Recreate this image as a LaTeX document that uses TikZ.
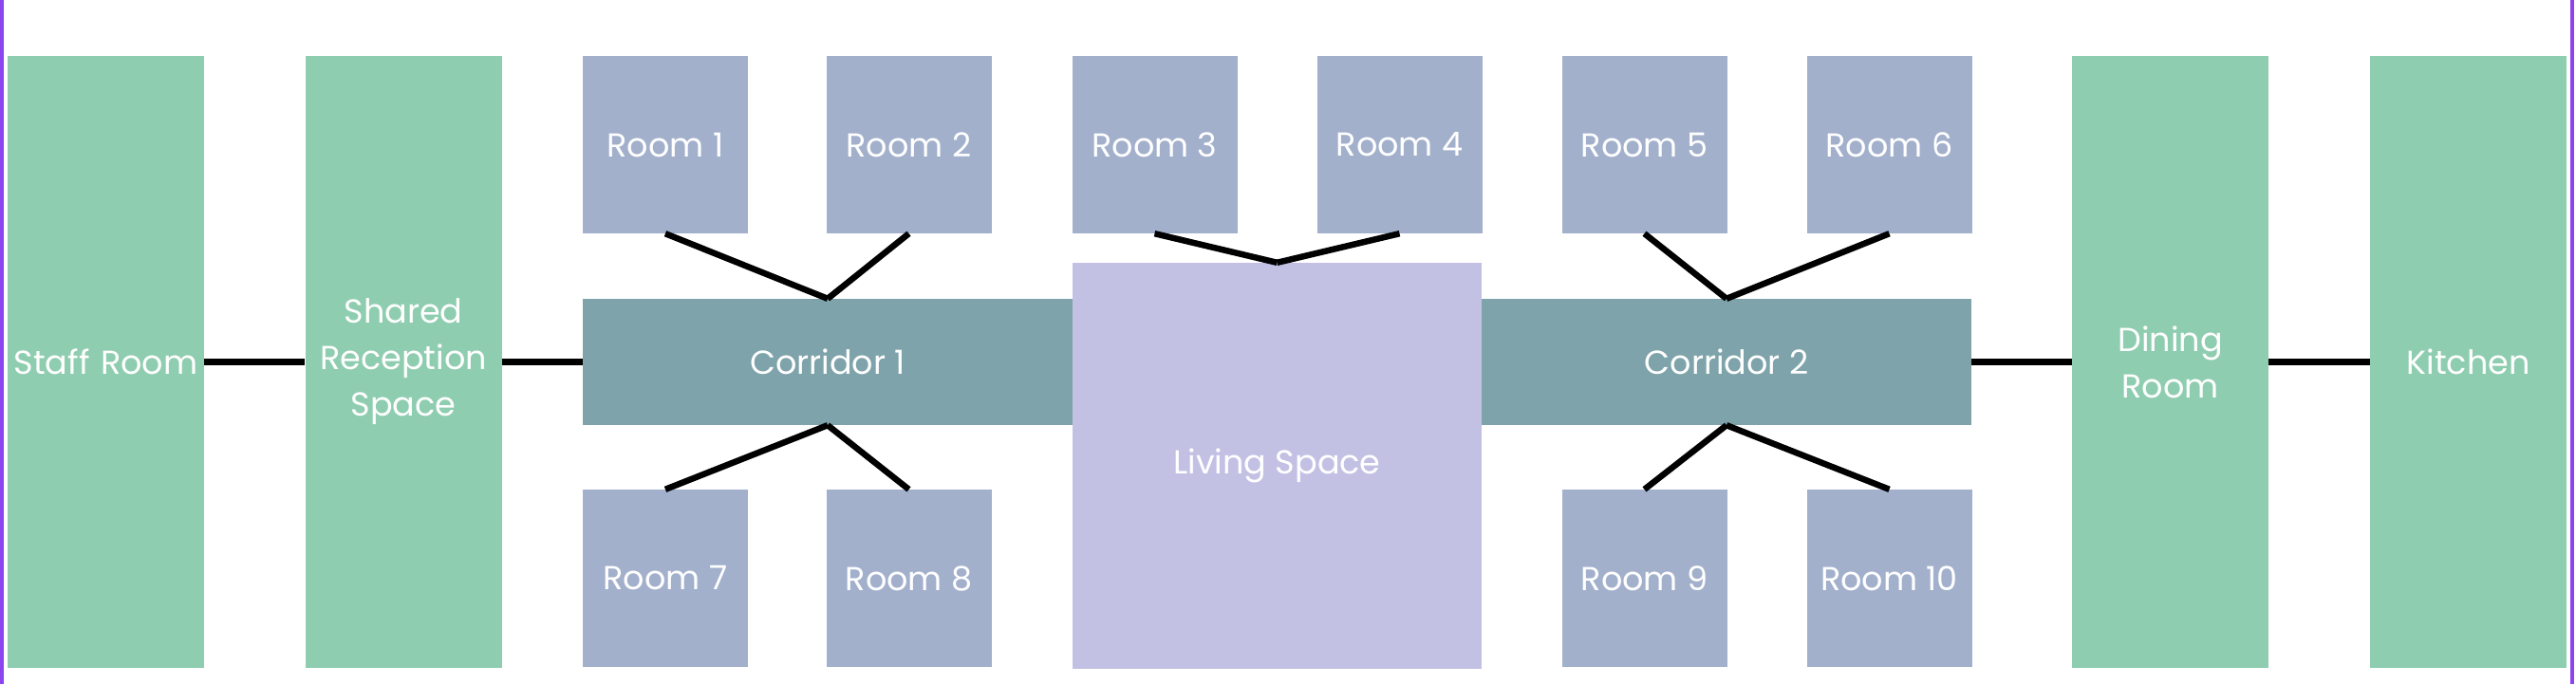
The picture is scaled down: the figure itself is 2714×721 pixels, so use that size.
\documentclass[tikz,border=0pt]{standalone}
\usepackage{fontspec}
\setmainfont{Poppins}
\definecolor{greenc}{HTML}{8FCDB0}
\definecolor{roomc}{HTML}{A2B0CC}
\definecolor{corrc}{HTML}{7EA3AA}
\definecolor{livc}{HTML}{C2C1E4}
\definecolor{purplec}{HTML}{8B44EE}
\tikzset{
  box/.style={rectangle, inner sep=0pt, text=white, align=center,
    font=\fontsize{35}{49}\selectfont},
  greenbox/.style={box, fill=greenc, minimum width=207pt, minimum height=645pt, text width=207pt},
  roombox/.style={box, fill=roomc, minimum width=174pt, minimum height=187pt},
  corrbox/.style={box, fill=corrc, minimum width=516pt, minimum height=133pt},
  livbox/.style={box, fill=livc, minimum width=431pt, minimum height=428pt},
  conn/.style={draw=black, line width=6.5pt},
  edge/.style={draw=purplec, line width=4pt}
}
\begin{document}
\begin{tikzpicture}[x=1pt,y=-1pt]
\useasboundingbox (0,0) rectangle (2714,721);
\fill[white] (0,0) rectangle (2714,721);
\coordinate (lt) at (2,0); \coordinate (lb) at (2,721);
\coordinate (rt) at (2710,0); \coordinate (rb) at (2710,721);
\draw[edge] (lt) -- (lb);
\draw[edge] (rt) -- (rb);

\node[greenbox] (staff) at (111.5,381.5) {Staff Room};
\node[greenbox] (shared) at (425,381.5) {Shared\\Reception\\Space};
\node[greenbox] (dining) at (2286.5,381.5) {Dining\\Room};
\node[greenbox] (kitchen) at (2600.5,381.5) {Kitchen};

\node[corrbox] (c1) at (872,381.5) {Corridor 1};
\node[corrbox] (c2) at (1819,381.5) {Corridor 2};
\node[livbox] (liv) at (1345.5,491) {Living Space};

\node[roombox] (r1) at (701,152.5) {Room 1};
\node[roombox] (r2) at (957.5,152.5) {Room 2};
\node[roombox] (r3) at (1216.5,152.5) {Room 3};
\node[roombox] (r4) at (1474.5,152.5) {Room 4};
\node[roombox] (r5) at (1732.5,152.5) {Room 5};
\node[roombox] (r6) at (1990.5,152.5) {Room 6};
\node[roombox] (r7) at (701,609.5) {Room 7};
\node[roombox] (r8) at (957.5,609.5) {Room 8};
\node[roombox] (r9) at (1732.5,609.5) {Room 9};
\node[roombox] (r10) at (1990.5,609.5) {Room 10};

\draw[conn] (staff.east) -- (shared.west);
\draw[conn] (shared.east) -- (c1.west);
\draw[conn] (c2.east) -- (dining.west);
\draw[conn] (dining.east) -- (kitchen.west);

\draw[conn] (r1.south) -- (c1.north);
\draw[conn] (r2.south) -- (c1.north);
\draw[conn] (r7.north) -- (c1.south);
\draw[conn] (r8.north) -- (c1.south);
\draw[conn] (r3.south) -- (liv.north);
\draw[conn] (r4.south) -- (liv.north);
\draw[conn] (r5.south) -- (c2.north);
\draw[conn] (r6.south) -- (c2.north);
\draw[conn] (r9.north) -- (c2.south);
\draw[conn] (r10.north) -- (c2.south);
\end{tikzpicture}
\end{document}
